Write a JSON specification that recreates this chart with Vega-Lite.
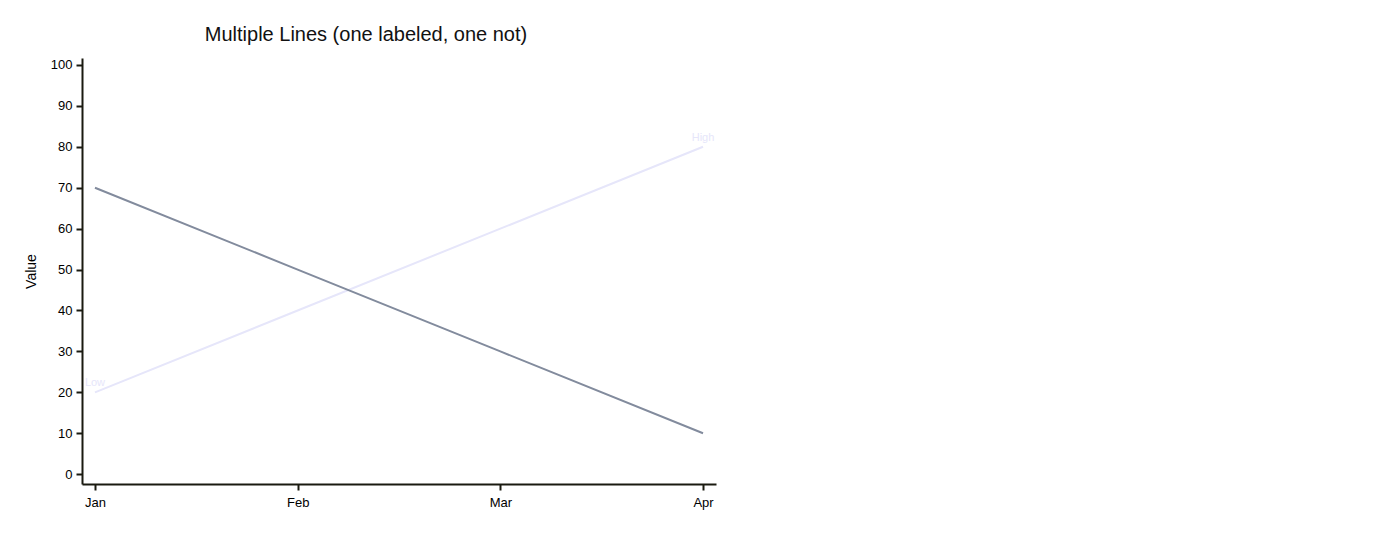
{
  "$schema": "https://vega.github.io/schema/vega-lite/v6.json",
  "width": 634,
  "height": 426,
  "autosize": {"type": "none"},
  "padding": {"left": 82, "top": 58, "right": 684, "bottom": 68},
  "background": "white",
  "title": {
    "text": "Multiple Lines (one labeled, one not)",
    "fontSize": 20,
    "fontWeight": "normal",
    "font": "Liberation Sans",
    "color": "#111111",
    "anchor": "middle",
    "dx": -33,
    "offset": 13
  },
  "config": {
    "view": {"stroke": null},
    "axis": {
      "labelFont": "Liberation Sans",
      "titleFont": "Liberation Sans",
      "labelFontSize": 13,
      "labelColor": "#000000",
      "domainColor": "#1a1a10",
      "tickColor": "#1a1a10",
      "domainWidth": 2,
      "tickWidth": 2,
      "tickSize": 6,
      "grid": false
    }
  },
  "data": {
    "values": [
      {"month": "Jan", "value": 20, "series": "Labeled", "label": "Low"},
      {"month": "Feb", "value": 40, "series": "Labeled", "label": ""},
      {"month": "Mar", "value": 60, "series": "Labeled", "label": ""},
      {"month": "Apr", "value": 80, "series": "Labeled", "label": "High"},
      {"month": "Jan", "value": 70, "series": "Plain", "label": ""},
      {"month": "Feb", "value": 50, "series": "Plain", "label": ""},
      {"month": "Mar", "value": 30, "series": "Plain", "label": ""},
      {"month": "Apr", "value": 10, "series": "Plain", "label": ""}
    ]
  },
  "encoding": {
    "x": {
      "field": "month",
      "type": "ordinal",
      "sort": ["Jan", "Feb", "Mar", "Apr"],
      "scale": {"type": "point", "padding": 0.064},
      "axis": {"title": null, "labelAngle": 0, "labelPadding": 6}
    },
    "y": {
      "field": "value",
      "type": "quantitative",
      "scale": {"domain": [-2.4, 101.7], "nice": false, "zero": false},
      "axis": {
        "title": "Value",
        "values": [0, 10, 20, 30, 40, 50, 60, 70, 80, 90, 100],
        "titleFontSize": 14,
        "titleFontWeight": "normal",
        "titleColor": "#000000",
        "titlePadding": 12,
        "labelPadding": 4
      }
    }
  },
  "layer": [
    {
      "mark": {"type": "line", "strokeWidth": 2},
      "encoding": {
        "detail": {"field": "series"},
        "color": {
          "field": "series",
          "type": "nominal",
          "scale": {"domain": ["Labeled", "Plain"], "range": ["#e6e6fa", "#828b9d"]},
          "legend": null
        }
      }
    },
    {
      "transform": [{"filter": "datum.label != ''"}],
      "mark": {"type": "text", "dy": -9, "fontSize": 11, "font": "Liberation Sans", "color": "#e6e6fa", "align": "center"},
      "encoding": {"text": {"field": "label"}}
    }
  ]
}
